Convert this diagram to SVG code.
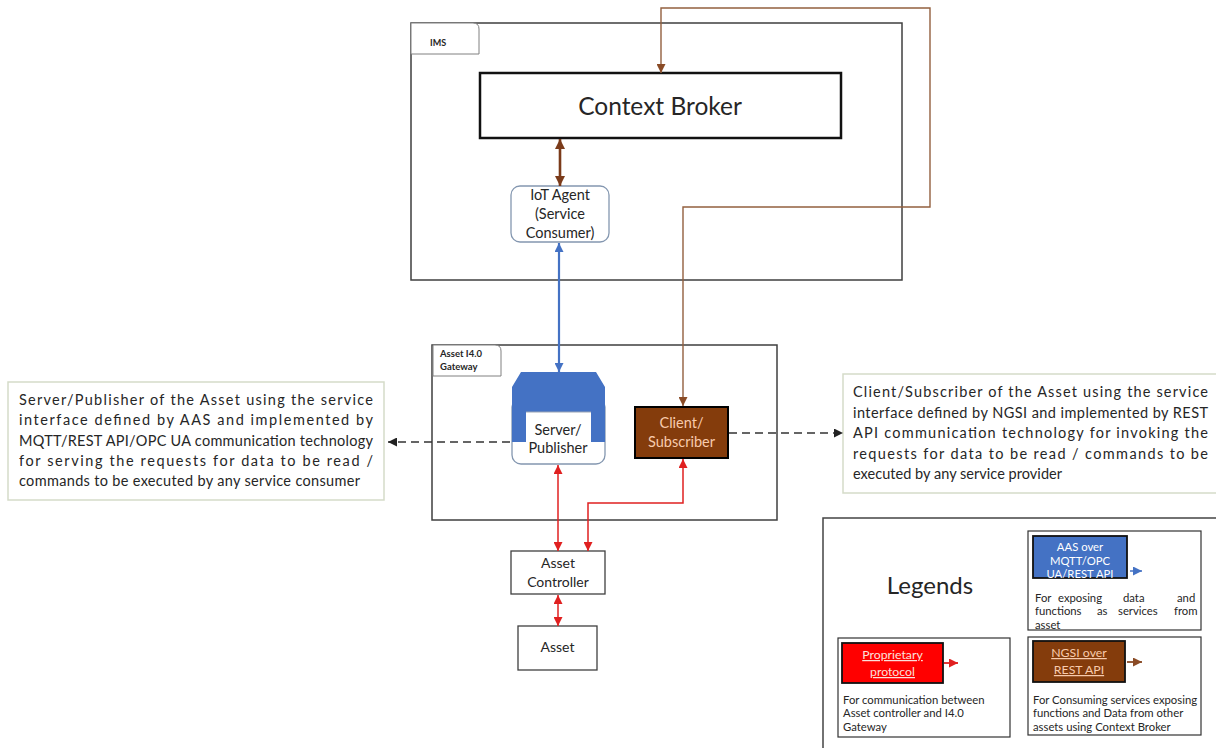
<svg xmlns="http://www.w3.org/2000/svg" width="1216" height="748" viewBox="0 0 1216 748">
  <style>
    .t { font-family: Lato, "Liberation Sans", sans-serif; fill: #262626; }
    .frame { fill: none; stroke: #3f3f3f; stroke-width: 1.5; }
    .tab { fill: #fff; stroke: #808080; stroke-width: 1; }
    .box { fill: #fff; stroke: #3f3f3f; stroke-width: 1.3; }
    .note { fill: #fff; stroke: #d5dbc9; stroke-width: 1.5; }
    .brownThin { fill: none; stroke: #93603f; stroke-width: 1.4; }
    .brownThick { fill: none; stroke: #7b3b1a; stroke-width: 2.6; }
    .blue { fill: none; stroke: #4472c4; stroke-width: 2.2; }
    .red { fill: none; stroke: #e02020; stroke-width: 1.5; }
    .dash { fill: none; stroke: #333; stroke-width: 1.5; stroke-dasharray: 8 5; }
  </style>
  <defs>
    <marker id="arrBrown" viewBox="0 0 10 10" refX="10" refY="5" markerWidth="9" markerHeight="9" markerUnits="userSpaceOnUse" orient="auto-start-reverse">
      <path d="M0,0 L10,5 L0,10 Z" fill="#8a4b26"/>
    </marker>
    <marker id="arrBrownBig" viewBox="0 0 10 10" refX="10" refY="5" markerWidth="10" markerHeight="10" markerUnits="userSpaceOnUse" orient="auto-start-reverse">
      <path d="M0,0 L10,5 L0,10 Z" fill="#7b3b1a"/>
    </marker>
    <marker id="arrBlue" viewBox="0 0 10 10" refX="10" refY="5" markerWidth="9" markerHeight="9" markerUnits="userSpaceOnUse" orient="auto-start-reverse">
      <path d="M0,0 L10,5 L0,10 Z" fill="#4472c4"/>
    </marker>
    <marker id="arrRed" viewBox="0 0 10 10" refX="10" refY="5" markerWidth="9" markerHeight="9" markerUnits="userSpaceOnUse" orient="auto-start-reverse">
      <path d="M0,0 L10,5 L0,10 Z" fill="#e02020"/>
    </marker>
    <marker id="arrBlack" viewBox="0 0 10 10" refX="10" refY="5" markerWidth="9" markerHeight="9" markerUnits="userSpaceOnUse" orient="auto">
      <path d="M0,0 L10,5 L0,10 Z" fill="#222"/>
    </marker>
  </defs>

  <rect width="1216" height="748" fill="#fff"/>

  <!-- IMS container -->
  <g id="ims">
    <rect class="frame" x="411" y="23" width="491" height="257"/>
    <path class="tab" d="M411,23 H473 Q479,23 479,29 V54 H411 Z"/>
    <text class="t" x="430" y="46" font-size="9" font-weight="bold">IMS</text>
  </g>

  <!-- Asset I4.0 Gateway container -->
  <g id="gateway">
    <rect class="frame" x="432" y="345" width="345" height="175"/>
    <path class="tab" d="M433,345 H495 Q501,345 501,351 V376 H433 Z"/>
    <text class="t" x="440" y="357" font-size="9.5" font-weight="bold">Asset I4.0</text>
    <text class="t" x="440" y="370" font-size="9.5" font-weight="bold">Gateway</text>
  </g>

  <g id="context-broker">
    <rect x="480" y="73" width="361" height="65" fill="#fff" stroke="#111" stroke-width="2.5"/>
    <text class="t" x="660" y="115" font-size="24.5" text-anchor="middle">Context Broker</text>
  </g>

  <g id="iot-agent">
    <rect x="511" y="186" width="98" height="56" rx="9" fill="#fff" stroke="#8497b0" stroke-width="1.3"/>
    <text class="t" x="560" y="200" font-size="14.5" text-anchor="middle">IoT Agent</text>
    <text class="t" x="560" y="219" font-size="14.5" text-anchor="middle">(Service</text>
    <text class="t" x="560" y="238" font-size="14.5" text-anchor="middle">Consumer)</text>
  </g>

  <g id="server-publisher">
    <rect x="512" y="398" width="93" height="66" rx="9" fill="#fff" stroke="#8497b0" stroke-width="1.3"/>
    <path d="M512,442 V387 L521,372 H596 L605,387 V442 H591 V412 H526 V442 Z" fill="#4472c4"/>
    <line x1="526" y1="412" x2="591" y2="412" stroke="#9aa4b4" stroke-width="1"/>
    <text class="t" x="558" y="435" font-size="14.5" text-anchor="middle">Server/</text>
    <text class="t" x="558" y="453" font-size="14.5" text-anchor="middle">Publisher</text>
  </g>

  <g id="client-subscriber">
    <rect x="635" y="407" width="93" height="51" fill="#843c0c" stroke="#000" stroke-width="2"/>
    <text class="t" x="681.5" y="428" font-size="14.5" text-anchor="middle" style="fill:#f8cbad">Client/</text>
    <text class="t" x="681.5" y="447" font-size="14.5" text-anchor="middle" style="fill:#f8cbad">Subscriber</text>
  </g>

  <g id="asset-controller">
    <rect class="box" x="511" y="551" width="94" height="43"/>
    <text class="t" x="558" y="568" font-size="14" text-anchor="middle">Asset</text>
    <text class="t" x="558" y="587" font-size="14" text-anchor="middle">Controller</text>
  </g>

  <g id="asset">
    <rect class="box" x="518" y="626" width="79" height="44"/>
    <text class="t" x="557.5" y="652" font-size="14" text-anchor="middle">Asset</text>
  </g>

  <!-- Description of the server/publisher role -->
  <g id="server-note">
    <rect class="note" x="8" y="382" width="376" height="118"/>
    <g class="t" font-size="14.5">
      <text x="19" y="405" textLength="354" lengthAdjust="spacing">Server/Publisher of the Asset using the service</text>
      <text x="19" y="425" textLength="354" lengthAdjust="spacing">interface defined by AAS and implemented by</text>
      <text x="19" y="446" textLength="354" lengthAdjust="spacing">MQTT/REST API/OPC UA communication technology</text>
      <text x="19" y="466" textLength="354" lengthAdjust="spacing">for serving the requests for data to be read /</text>
      <text x="19" y="486" textLength="341" lengthAdjust="spacing">commands to be executed by any service consumer</text>
    </g>
  </g>

  <!-- Description of the client/subscriber role -->
  <g id="client-note">
    <rect class="note" x="843" y="374" width="380" height="119"/>
    <g class="t" font-size="14.5">
      <text x="853" y="397" textLength="355" lengthAdjust="spacing">Client/Subscriber of the Asset using the service</text>
      <text x="853" y="418" textLength="355" lengthAdjust="spacing">interface defined by NGSI and implemented by REST</text>
      <text x="853" y="438" textLength="355" lengthAdjust="spacing">API communication technology for invoking the</text>
      <text x="853" y="459" textLength="355" lengthAdjust="spacing">requests for data to be read / commands to be</text>
      <text x="853" y="479" textLength="209" lengthAdjust="spacing">executed by any service provider</text>
    </g>
  </g>

  <!-- Connectors -->
  <g id="connectors">
    <path class="brownThin" d="M683,406 V207 H930 V8 H661 V73" marker-start="url(#arrBrown)" marker-end="url(#arrBrown)"/>
    <path class="brownThick" d="M560,139 V186" marker-start="url(#arrBrownBig)" marker-end="url(#arrBrownBig)"/>
    <path class="blue" d="M559,243 V372" marker-start="url(#arrBlue)" marker-end="url(#arrBlue)"/>
    <path class="red" d="M558,465 V551" marker-start="url(#arrRed)" marker-end="url(#arrRed)"/>
    <path class="red" d="M588,551 V503 H683 V459" marker-start="url(#arrRed)" marker-end="url(#arrRed)"/>
    <path class="red" d="M558,595 V626" marker-start="url(#arrRed)" marker-end="url(#arrRed)"/>
    <path class="dash" d="M510,442 H388" marker-end="url(#arrBlack)"/>
    <path class="dash" d="M729,433 H843" marker-end="url(#arrBlack)"/>
  </g>

  <!-- Legend panel -->
  <g id="legend">
    <rect x="823" y="518" width="400" height="240" fill="#fff" stroke="#444" stroke-width="1.5"/>
    <text class="t" x="930" y="594" font-size="24" text-anchor="middle">Legends</text>

    <g id="legend-aas">
      <rect x="1028" y="531" width="173" height="99" fill="#fff" stroke="#333" stroke-width="1.2"/>
      <rect x="1033" y="536" width="94" height="42" fill="#4472c4" stroke="#111" stroke-width="1.8"/>
      <g class="t" font-size="11.3" text-anchor="middle" style="fill:#fff">
        <text x="1080" y="551">AAS over</text>
        <text x="1080" y="564.5">MQTT/OPC</text>
        <text x="1080" y="577.5">UA/REST API</text>
      </g>
      <path d="M1130,571 H1142" stroke="#4472c4" stroke-width="1.5" marker-end="url(#arrBlue)"/>
      <g class="t" font-size="11.3">
        <text y="602"><tspan x="1035">For</tspan><tspan x="1058">exposing</tspan><tspan x="1123">data</tspan><tspan x="1177">and</tspan></text>
        <text y="615"><tspan x="1035">functions</tspan><tspan x="1097">as</tspan><tspan x="1118">services</tspan><tspan x="1174">from</tspan></text>
        <text x="1035" y="628.5">asset</text>
      </g>
    </g>

    <g id="legend-proprietary">
      <rect x="838" y="638" width="172" height="99" fill="#fff" stroke="#333" stroke-width="1.2"/>
      <rect x="842" y="643" width="101" height="40" fill="#ff0000" stroke="#111" stroke-width="1.8"/>
      <g class="t" font-size="12.3" text-anchor="middle" text-decoration="underline" style="fill:#fbe0dc">
        <text x="892.5" y="659">Proprietary</text>
        <text x="892.5" y="676">protocol</text>
      </g>
      <path d="M944,663 H958" stroke="#e02020" stroke-width="1.8" marker-end="url(#arrRed)"/>
      <g class="t" font-size="11.3">
        <text x="843" y="704">For communication between</text>
        <text x="843" y="717">Asset controller and I4.0</text>
        <text x="843" y="731">Gateway</text>
      </g>
    </g>

    <g id="legend-ngsi">
      <rect x="1028" y="637" width="173" height="98" fill="#fff" stroke="#333" stroke-width="1.2"/>
      <rect x="1033" y="641" width="92" height="41" fill="#843c0c" stroke="#111" stroke-width="1.8"/>
      <g class="t" font-size="12.3" text-anchor="middle" text-decoration="underline" style="fill:#f8cbad">
        <text x="1079" y="657">NGSI over</text>
        <text x="1079" y="674">REST API</text>
      </g>
      <path d="M1127,662 H1142" stroke="#8a4b26" stroke-width="1.8" marker-end="url(#arrBrown)"/>
      <g class="t" font-size="11.3">
        <text x="1033" y="704">For Consuming services exposing</text>
        <text x="1033" y="717">functions and Data from other</text>
        <text x="1033" y="731">assets using Context Broker</text>
      </g>
    </g>
  </g>
</svg>
